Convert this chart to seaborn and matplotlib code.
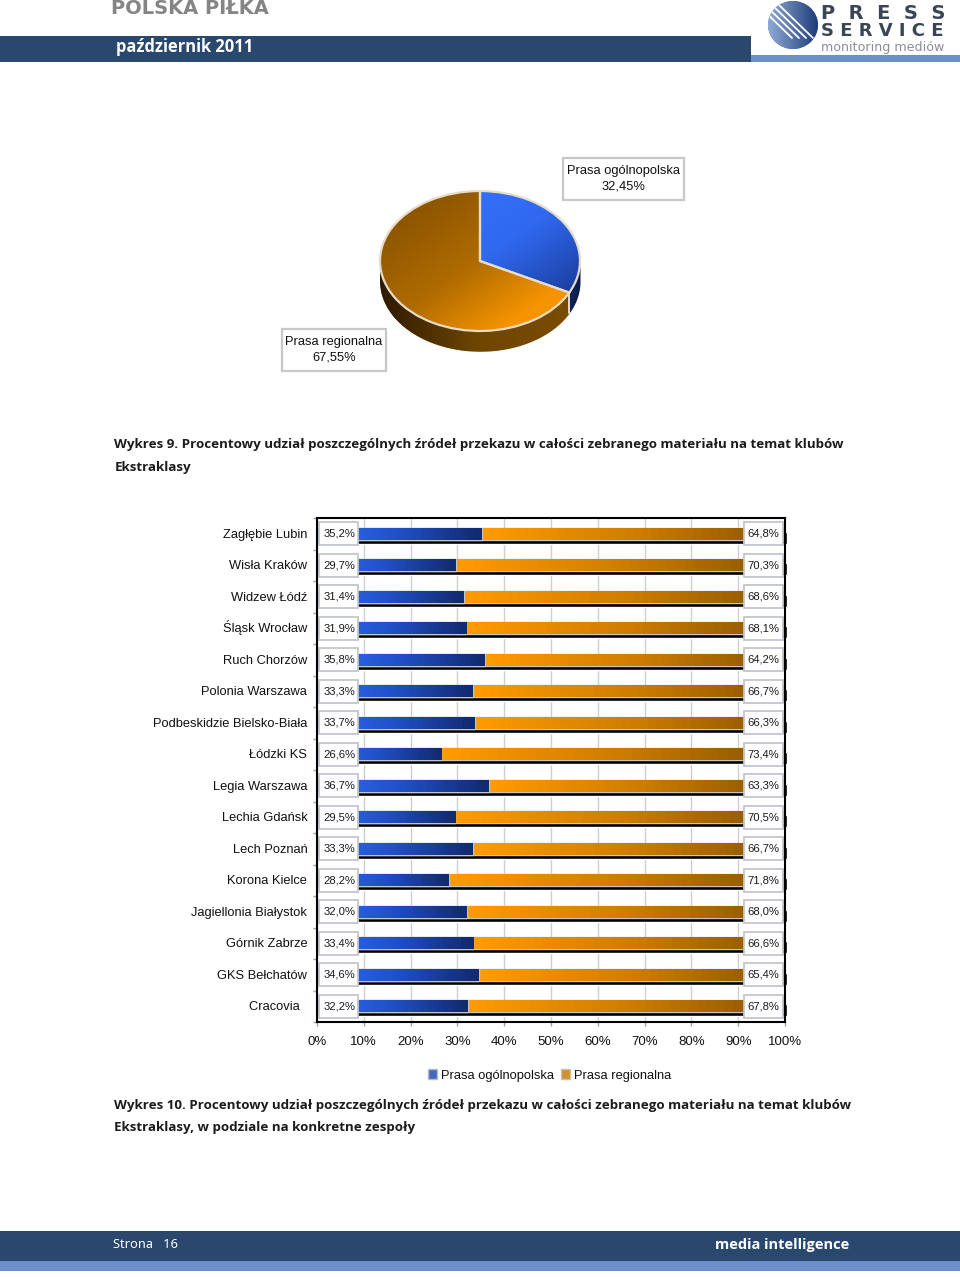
import numpy as np
import pandas as pd
import matplotlib
matplotlib.use("Agg")
import matplotlib.pyplot as plt
import seaborn as sns

from matplotlib.colors import LinearSegmentedColormap
from matplotlib.patches import Ellipse, Patch, Rectangle
from matplotlib.transforms import ScaledTranslation

# =====================================================
# DATA
# =====================================================

clubs = [
    "Zagłębie Lubin", "Wisła Kraków", "Widzew Łódź", "Śląsk Wrocław",
    "Ruch Chorzów", "Polonia Warszawa", "Podbeskidzie Bielsko-Biała",
    "Łódzki KS", "Legia Warszawa", "Lechia Gdańsk", "Lech Poznań",
    "Korona Kielce", "Jagiellonia Białystok", "Górnik Zabrze",
    "GKS Bełchatów", "Cracovia  ",
]
national = [35.2, 29.7, 31.4, 31.9, 35.8, 33.3, 33.7, 26.6,
            36.7, 29.5, 33.3, 28.2, 32.0, 33.4, 34.6, 32.2]
regional = [64.8, 70.3, 68.6, 68.1, 64.2, 66.7, 66.3, 73.4,
            63.3, 70.5, 66.7, 71.8, 68.0, 66.6, 65.4, 67.8]

pie_labels = ["Prasa ogólnopolska", "Prasa regionalna"]
pie_values = [32.45, 67.55]

x_ticks = [0, 10, 20, 30, 40, 50, 60, 70, 80, 90, 100]

df = pd.DataFrame({"club": clubs, "national": national, "regional": regional})
df["total"] = df["national"] + df["regional"]

# =====================================================
# STYLE
# =====================================================

W, H = 960, 1277
NAVY = "#2A486E"
LIGHT = "#6A8FC9"
BOX_EDGE = "#C4C6CE"
BOLD_FONT = "Open Sans"

sns.set_theme(style="white")
plt.rcParams["font.family"] = ["Liberation Sans", "DejaVu Sans"]

blue_map = LinearSegmentedColormap.from_list("b", ["#2F6AF5", "#2050C6", "#122A70"])
orange_map = LinearSegmentedColormap.from_list("o", ["#FF9A00", "#CF7E00", "#8A5500"])


def px(size):
    return size * 0.72


def axes_px(left, top, right, bottom):
    return [left / W, 1 - bottom / H, (right - left) / W, (bottom - top) / H]


fig = plt.figure(figsize=(W / 100, H / 100), dpi=100, facecolor="white")

# =====================================================
# PAGE (pixel coordinates)
# =====================================================

page = fig.add_axes([0, 0, 1, 1])
page.set_xlim(0, W)
page.set_ylim(H, 0)
page.axis("off")

page.add_patch(Rectangle((0, 36), 751, 25.5, color=NAVY, lw=0))
page.add_patch(Rectangle((751, 55), 209, 6.5, color=LIGHT, lw=0))
page.add_patch(Rectangle((0, 1231), 960, 30, color=NAVY, lw=0))
page.add_patch(Rectangle((0, 1261), 960, 10, color=LIGHT, lw=0))

page.text(111, 9, "POLSKA PIŁKA", color="#858585", fontsize=px(19.5),
          fontweight="bold", family="DejaVu Sans", va="center")
page.text(115.5, 46.5, "październik 2011", color="white", fontsize=px(16.5),
          fontweight="bold", family=BOLD_FONT, va="center")
page.text(113, 1244, "Strona   16", color="white", fontsize=px(12.8),
          family="Noto Sans", va="center")
page.text(715, 1245.5, "media intelligence", color="white", fontsize=px(14.6),
          fontweight="bold", family=BOLD_FONT, va="center")

# logo
logo = Ellipse((793, 25), 50, 48, color="#4F78B8", lw=0)
page.add_patch(logo)
logo_img = page.imshow(
    np.linspace(0, 1, 64)[None, :], cmap=LinearSegmentedColormap.from_list(
        "l", ["#8FAAD6", "#1F3E78"]),
    extent=[768, 818, 49, 1], aspect="auto", zorder=2)
logo_img.set_clip_path(logo)
for shift in [-14, -7, 0, 7]:
    stripe, = page.plot([772 + shift, 806 + shift], [5, 38], color="white", lw=1.3,
                        zorder=3)
    stripe.set_clip_path(logo)
page.text(821, 13.5, "P  R  E  S  S", color="#3A4656", fontsize=px(19.5),
          fontweight="bold", family="DejaVu Sans", va="center")
page.text(821, 30.5, "S E R V I C E", color="#3A4656", fontsize=px(18),
          fontweight="bold", family="DejaVu Sans", va="center")
page.text(821, 47, "monitoring mediów", color="#8A8F96", fontsize=px(12.6),
          family="DejaVu Sans", va="center")

# captions
caption_kw = dict(fontsize=px(13.4), fontweight="bold", family=BOLD_FONT,
                  color="#1C1C1C", va="center")
page.text(114.5, 444.5, "Wykres 9. Procentowy udział poszczególnych źródeł przekazu w całości "
          "zebranego materiału na temat klubów", **caption_kw)
page.text(114.5, 467.5, "Ekstraklasy", **caption_kw)
page.text(114.5, 1105, "Wykres 10. Procentowy udział poszczególnych źródeł przekazu w całości "
          "zebranego materiału na temat klubów", **caption_kw)
page.text(114.5, 1128, "Ekstraklasy, w podziale na konkretne zespoły", **caption_kw)

# pie label boxes
for (x0, y0, x1, y1), name, value in [
    ((562.5, 157.5, 684, 199.5), pie_labels[0], pie_values[0]),
    ((281.5, 328.5, 386, 370.5), pie_labels[1], pie_values[1]),
]:
    page.add_patch(Rectangle((x0, y0), x1 - x0, y1 - y0, fc="white", ec="#C8C8C8", lw=1.6))
    page.text((x0 + x1) / 2, (y0 + y1) / 2,
              f"{name}\n{value:.2f}%".replace(".", ","),
              fontsize=px(12.9), color="#111111", ha="center", va="center",
              linespacing=1.35)

page.set_xlim(0, W)
page.set_ylim(H, 0)

# =====================================================
# PIE
# =====================================================

DEPTH = 0.29
XLIM = (-1.1, 1.1)
YLIM = (-1.45, 1.1)
pie_ax = fig.add_axes(axes_px(370, 184, 590, 362.5))

wedges, _ = pie_ax.pie(pie_values, startangle=90, counterclock=False,
                       colors=["none", "none"],
                       wedgeprops={"ec": "#E6DCCB", "lw": 1.6, "zorder": 6})
pie_ax.set_aspect("auto")

split = np.deg2rad(90 - 360 * pie_values[0] / 100)
side_angles = [
    (np.linspace(np.pi, 2 * np.pi + split, 120), ["#2E1A00", "#6E4500", "#7A4C00"]),
    (np.linspace(2 * np.pi + split, 2 * np.pi, 30), ["#0F2560", "#0B1B48"]),
]
for angles, side_colors in side_angles:
    xs = np.cos(angles)
    ys = np.sin(angles)
    side = pie_ax.fill_between(xs, ys, ys - DEPTH, color=side_colors[-1], lw=0, zorder=1)
    side_img = pie_ax.imshow(
        np.linspace(0, 1, 128)[None, :],
        cmap=LinearSegmentedColormap.from_list("s", side_colors),
        extent=[xs.min(), xs.max(), -1 - DEPTH, 0], aspect="auto", zorder=2)
    side_img.set_clip_path(side.get_paths()[0], pie_ax.transData)
pie_ax.plot([np.cos(split)] * 2, [np.sin(split), np.sin(split) - DEPTH],
            color="#E6DCCB", lw=1.4, zorder=3)

# diagonal shading of each slice, light falls from the top left
yy, xx = np.mgrid[0:1:128j, 0:1:128j]
field = (xx + 1 - yy) / 2
blue_shade = LinearSegmentedColormap.from_list(
    "bs", [(0, "#3A74FF"), (0.5, "#3069F0"), (0.72, "#234FBE"), (1, "#10286C")])
orange_shade = LinearSegmentedColormap.from_list(
    "os", [(0, "#7E4C00"), (0.5, "#B06C00"), (0.8, "#F59400"), (1, "#FF9A00")])
for wedge, cmap in [(wedges[0], blue_shade), (wedges[1], orange_shade)]:
    img = pie_ax.imshow(field, cmap=cmap, extent=[-1, 1, -1, 1], origin="lower",
                        aspect="auto", zorder=5)
    img.set_clip_path(wedge)

pie_ax.set_xlim(*XLIM)
pie_ax.set_ylim(*YLIM)
pie_ax.axis("off")

# =====================================================
# STACKED BARS
# =====================================================

ax = fig.add_axes(axes_px(317, 518, 785, 1022))

BAR_W = 0.38

# shadow, regional (full length) then national on top
sns.barplot(data=df, x="total", y="club", order=clubs, orient="h", color="black",
            width=BAR_W, saturation=1, ax=ax, zorder=2)
offset = ScaledTranslation(2.5 / 100, -4 / 100, fig.dpi_scale_trans)
for bar in ax.containers[-1]:
    bar.set_transform(ax.transData + offset)
    bar.set_clip_on(False)

sns.barplot(data=df, x="total", y="club", order=clubs, orient="h", color="#FF9A00",
            width=BAR_W, saturation=1, ax=ax, zorder=3, edgecolor="#C9C5BE", linewidth=1)
regional_bars = list(ax.containers[-1])
sns.barplot(data=df, x="national", y="club", order=clubs, orient="h", color="#2F68F2",
            width=BAR_W, saturation=1, ax=ax, zorder=4, edgecolor="#BFC3D0", linewidth=1)
national_bars = list(ax.containers[-1])

for bars, cmap, z, starts in [(regional_bars, orange_map, 3.5, national),
                              (national_bars, blue_map, 4.5, [0] * len(clubs))]:
    for bar, start in zip(bars, starts):
        x1 = bar.get_x() + bar.get_width()
        y0 = bar.get_y()
        img = ax.imshow(np.linspace(0, 1, 36)[None, :], cmap=cmap, aspect="auto",
                        extent=[start, x1, y0 + bar.get_height(), y0],
                        interpolation="nearest", zorder=z)
        img.set_clip_path(bar)

# value boxes
for i, (left_val, right_val) in enumerate(zip(national, regional)):
    ax.add_patch(Rectangle((0.45, i - 0.37), 8.4, 0.74, fc="white", ec=BOX_EDGE, lw=1.3, zorder=6))
    ax.add_patch(Rectangle((91.25, i - 0.37), 8.4, 0.74, fc="white", ec=BOX_EDGE, lw=1.3, zorder=6))
    ax.text(4.8, i, f"{left_val:.1f}%".replace(".", ","), ha="center", va="center",
            fontsize=px(11.2), color="#1A1A1A", zorder=7)
    ax.text(95.45, i, f"{right_val:.1f}%".replace(".", ","), ha="center", va="center",
            fontsize=px(11.2), color="#1A1A1A", zorder=7)

ax.set_xlim(0, 100)
ax.set_ylim(15.5, -0.5)
ax.set_xlabel("")
ax.set_ylabel("")
ax.set_xticks(x_ticks)
ax.set_xticklabels([f"{t}%" for t in x_ticks], fontsize=px(13.2), color="#111111")
ax.set_yticks(np.arange(-0.5, 16), minor=True)
ax.tick_params(axis="y", which="major", length=0, pad=7, labelsize=px(12.9), labelcolor="#111111")
ax.tick_params(axis="y", which="minor", left=True, length=3, width=1, color="#A0A0A0")
ax.tick_params(axis="x", bottom=True, length=3, width=1, color="#A0A0A0", pad=7)

# baseline alignment so accented names stay level with the others
baseline_shift = ScaledTranslation(0, -4 / 100, fig.dpi_scale_trans)
for label in ax.get_yticklabels():
    label.set_va("baseline")
    label.set_transform(label.get_transform() + baseline_shift)

ax.grid(axis="x", color="#CFCFCF", lw=1)
ax.set_axisbelow(True)
for spine in ax.spines.values():
    spine.set_visible(True)
    spine.set_color("black")
    spine.set_linewidth(1.5)
    spine.set_zorder(8)

fig.legend(
    handles=[Patch(fc="#4468BC", ec="#B8BCC8", label=pie_labels[0]),
             Patch(fc="#D3902A", ec="#C8C0B0", label=pie_labels[1])],
    loc="center", bbox_to_anchor=(550 / W, 1 - 1075.5 / H), ncol=2, frameon=False,
    fontsize=px(12.9), labelcolor="#111111", handlelength=0.7, handleheight=0.7,
    handletextpad=0.3, columnspacing=0.55, borderpad=0, borderaxespad=0,
)

plt.savefig("out.png", dpi=100)
plt.close()
